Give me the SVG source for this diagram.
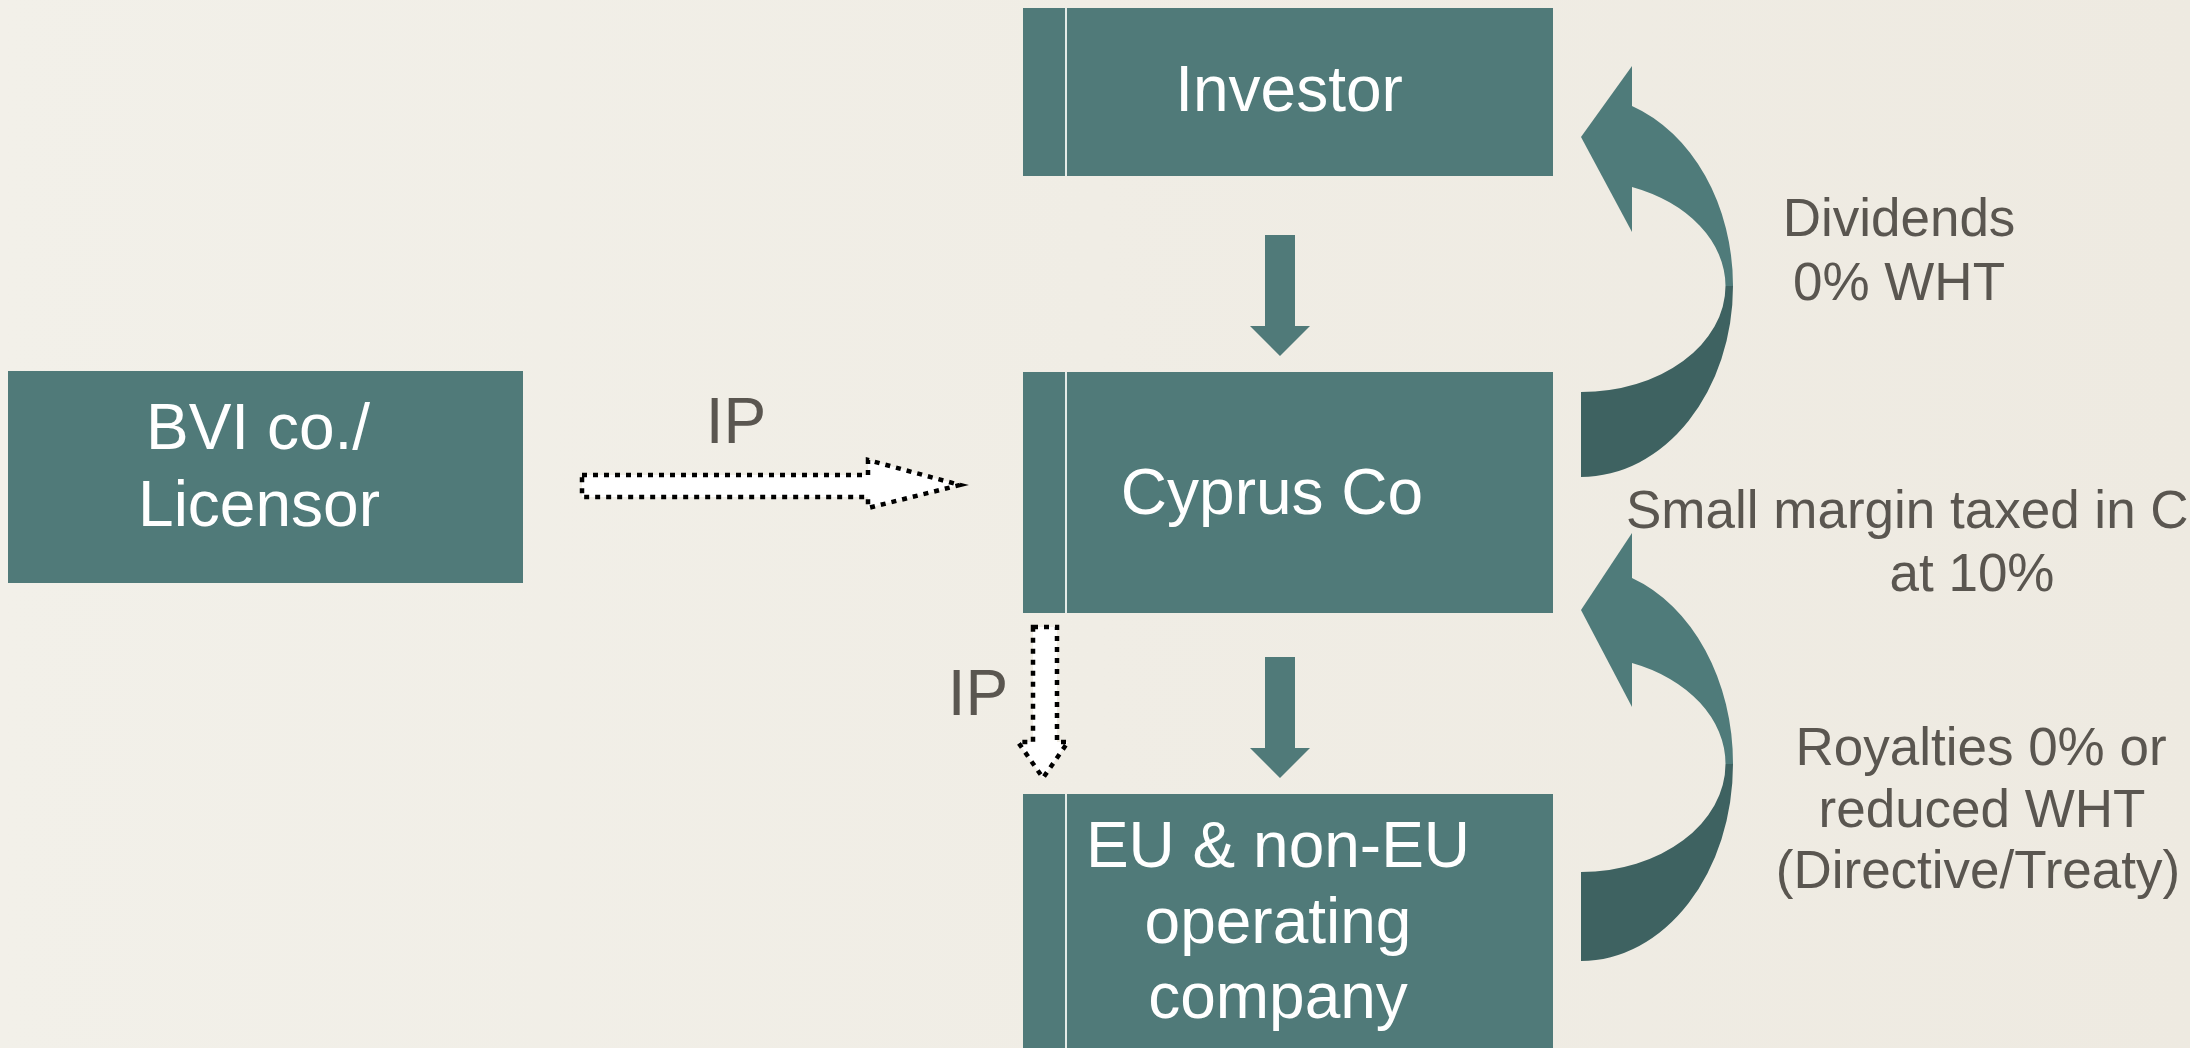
<svg xmlns="http://www.w3.org/2000/svg" width="2190" height="1048" viewBox="0 0 2190 1048">
<defs>
<linearGradient id="bg" x1="0" y1="0" x2="1" y2="0">
<stop offset="0" stop-color="#f2f0e9"/>
<stop offset="1" stop-color="#eeeae1"/>
</linearGradient>
</defs>
<style>
.box{fill:#507a79}
.sep{stroke:#e4ebe7;stroke-width:2}
.wt{font-family:"Liberation Sans",Arial,sans-serif;font-size:64px;fill:#ffffff;text-anchor:middle}
.gt{font-family:"Liberation Sans",Arial,sans-serif;font-size:53px;fill:#5a5650;text-anchor:middle}
.ip{font-family:"Liberation Sans",Arial,sans-serif;font-size:64px;fill:#5a5650;text-anchor:middle}
.solid{fill:#507a79}
.light{fill:#4f7b7a}
.dark{fill:#3e6261}
.dot{fill:#ffffff;stroke:#000000;stroke-width:4.5;stroke-dasharray:5 6;stroke-linejoin:miter}
</style>
<rect x="0" y="0" width="2190" height="1048" fill="url(#bg)"/>

<g id="node-investor">
<rect class="box" x="1023" y="8" width="530" height="168"/>
<line class="sep" x1="1066" y1="8" x2="1066" y2="176"/>
<text class="wt" x="1289" y="111">Investor</text>
</g>

<g id="node-cyprus">
<rect class="box" x="1023" y="372" width="530" height="241"/>
<line class="sep" x1="1066" y1="372" x2="1066" y2="613"/>
<text class="wt" x="1272" y="514">Cyprus Co</text>
</g>

<g id="node-eu">
<rect class="box" x="1023" y="794" width="530" height="260"/>
<line class="sep" x1="1066" y1="794" x2="1066" y2="1048"/>
<text class="wt" x="1278" y="867">EU &amp; non-EU</text>
<text class="wt" x="1278" y="943">operating</text>
<text class="wt" x="1278" y="1018">company</text>
</g>

<g id="node-bvi">
<rect class="box" x="8" y="371" width="515" height="212"/>
<text class="wt" x="258" y="449">BVI co./</text>
<text class="wt" x="259" y="526">Licensor</text>
</g>

<g id="connectors">
<path class="solid" d="M1265,235 L1295,235 L1295,326 L1310,326 L1280,356 L1250,326 L1265,326 Z"/>
<path class="solid" d="M1265,657 L1295,657 L1295,748 L1310,748 L1280,778 L1250,748 L1265,748 Z"/>
<path class="dot" d="M582,475 L868,475 L868,460 L960,485 L868,508 L868,497 L582,497 Z"/>
<path class="dot" d="M1033,627 L1057,627 L1057,742 L1068,742 L1043,778 L1018,742 L1033,742 Z"/>
<g id="curved-dividends">
<path class="light" d="M1632,106 A152,191 0 0 1 1733,286 L1725.5,286 A144.5,106 0 0 0 1632,187 Z"/>
<path class="light" d="M1632,66 L1581,137 L1632,232 Z"/>
<path class="dark" d="M1733,286 A152,191 0 0 1 1581,477 L1581,392 A144.5,106 0 0 0 1725.5,286 Z"/>
</g>
<g id="curved-royalties">
<path class="light" d="M1632,578 A152,197 0 0 1 1733,764 L1725.5,764 A144.5,108 0 0 0 1632,663 Z"/>
<path class="light" d="M1632,533 L1581,610 L1632,707 Z"/>
<path class="dark" d="M1733,764 A152,197 0 0 1 1581,961 L1581,872 A144.5,108 0 0 0 1725.5,764 Z"/>
</g>
</g>

<g id="labels">
<text class="ip" x="736" y="443">IP</text>
<text class="ip" x="978" y="715">IP</text>
<text class="gt" x="1899" y="236">Dividends</text>
<text class="gt" x="1899" y="300">0% WHT</text>
<text class="gt" x="1626" y="528" style="text-anchor:start">Small margin taxed in C</text>
<text class="gt" x="1972" y="591">at 10%</text>
<text class="gt" x="1981" y="765">Royalties 0% or</text>
<text class="gt" x="1982" y="827">reduced WHT</text>
<text class="gt" x="1978" y="888">(Directive/Treaty)</text>
</g>
</svg>
